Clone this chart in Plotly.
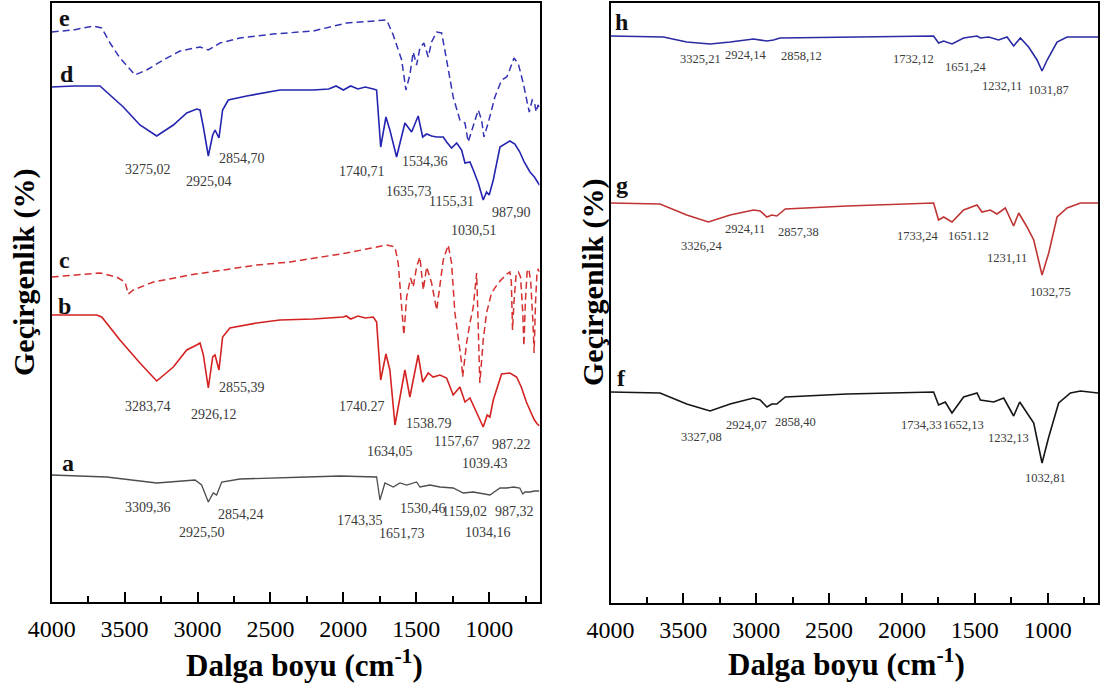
import plotly.graph_objects as go

# ---------------- data (wavenumber cm-1, transmittance a.u., stacked) ----------------
# Left panel
a_wn = [4000, 3623, 3280, 3098, 3017, 2972, 2926, 2892, 2869, 2834, 2709, 2252, 2023, 1772, 1749, 1715,
        1658, 1612, 1566, 1498, 1475, 1406, 1338, 1247, 1178, 1109, 995, 926, 880, 834, 790, 770, 755, 720, 690, 655]
a_y = [127, 125, 119, 121, 122, 117, 100, 109, 107, 120, 123, 125, 126, 125, 102, 119,
       115, 119, 117, 120, 115, 117, 115, 114, 109, 110, 107, 114, 114, 115, 114, 108, 110, 110, 111, 111]

b_wn = [4000, 3691, 3657, 3532, 3395, 3280, 3166, 3074, 3006, 2983, 2960, 2926, 2896, 2880, 2853, 2828, 2778,
        2594, 2435, 2206, 2000, 1980, 1950, 1900, 1850, 1795, 1772, 1744, 1708, 1681, 1646, 1617, 1578, 1544,
        1487, 1456, 1418, 1384, 1338, 1292, 1247, 1201, 1166, 1132, 1086, 1041, 1014, 995, 972, 915, 858, 812,
        780, 745, 715, 690, 670, 655]
b_y = [287, 287, 285, 262, 239, 221, 235, 252, 257, 259, 247, 214, 245, 247, 232, 265, 274,
       279, 282, 283, 285, 286, 283, 286, 284, 285, 280, 222, 248, 232, 177, 199, 232, 205,
       247, 220, 229, 225, 227, 224, 207, 215, 200, 204, 190, 175, 187, 185, 202, 228, 229, 225,
       215, 200, 190, 182, 178, 176]

c_wn = [4000, 3852, 3669, 3555, 3497, 3475, 3440, 3303, 3052, 2823, 2594, 2366, 2206, 1978, 1703, 1646, 1624,
        1600, 1585, 1566, 1539, 1521, 1498, 1475, 1452, 1429, 1395, 1360, 1338, 1315, 1281, 1258, 1235, 1212,
        1189, 1182, 1155, 1132, 1109, 1086, 1075, 1064, 1041, 1018, 984, 938, 880, 858, 848, 840, 830, 815,
        800, 785, 770, 762, 752, 740, 728, 715, 700, 692, 682, 672, 665, 655]
c_y = [325, 327, 329, 325, 320, 308, 312, 320, 327, 332, 337, 340, 344, 349, 357, 355, 339,
       295, 267, 305, 324, 315, 335, 345, 312, 335, 319, 292, 319, 342, 357, 339, 289, 265,
       239, 225, 259, 279, 295, 329, 279, 219, 262, 289, 309, 319, 328, 330, 320, 272, 300, 328,
       330, 325, 290, 256, 300, 330, 333, 320, 280, 249, 300, 330, 333, 330]

d_wn = [4000, 3850, 3669, 3600, 3509, 3395, 3280, 3166, 3074, 3006, 2983, 2960, 2926, 2896, 2880, 2853, 2828,
        2789, 2663, 2435, 2206, 2100, 2050, 2000, 1950, 1900, 1850, 1795, 1772, 1744, 1708, 1681, 1635, 1578,
        1532, 1487, 1456, 1429, 1395, 1360, 1315, 1292, 1258, 1223, 1189, 1166, 1132, 1109, 1075, 1041, 1018,
        1000, 972, 926, 890, 858, 824, 790, 760, 720, 690, 655]
d_y = [515, 516, 516, 507, 495, 477, 466, 477, 489, 493, 492, 475, 446, 467, 472, 464, 492,
       502, 506, 512, 512, 513, 516, 512, 516, 513, 515, 513, 512, 455, 485, 472, 445, 479,
       470, 486, 465, 468, 466, 465, 465, 460, 454, 459, 452, 439, 440, 432, 419, 402, 410,
       407, 422, 455, 458, 461, 458, 450, 440, 430, 425, 417]

e_wn = [4000, 3852, 3715, 3657, 3600, 3532, 3429, 3349, 3235, 3120, 2983, 2926, 2846, 2709, 2481, 2206, 1978,
        1703, 1658, 1600, 1571, 1544, 1521, 1498, 1475, 1448, 1418, 1395, 1360, 1326, 1292, 1247, 1201, 1166,
        1144, 1109, 1075, 1052, 1036, 1007, 961, 915, 880, 860, 830, 800, 765, 740, 725, 705, 690, 678, 665, 655]
e_y = [570, 572, 576, 574, 559, 544, 527, 532, 542, 551, 555, 552, 559, 564, 568, 571, 579,
       582, 567, 542, 512, 527, 550, 537, 554, 559, 545, 560, 570, 569, 542, 505, 482, 479,
       460, 477, 492, 482, 465, 479, 505, 522, 525, 532, 544, 538, 518, 500, 490, 502, 500, 490, 497, 495]

# Right panel
f_wn = [4000, 3660, 3477, 3317, 3179, 3019, 2973, 2927, 2893, 2859, 2801, 2378, 1783, 1749, 1703, 1657, 1577,
        1485, 1462, 1371, 1302, 1234, 1192, 1142, 1096, 1039, 993, 925, 844, 775, 654]
f_y = [211, 210, 199, 192, 199, 205, 203, 196, 199, 199, 206, 209, 211, 198, 201, 190, 206,
       210, 203, 201, 205, 187, 201, 190, 180, 140, 166, 200, 210, 212, 210]

g_wn = [4000, 3660, 3477, 3328, 3179, 3019, 2973, 2927, 2893, 2859, 2801, 2378, 1783, 1749, 1714, 1657, 1577,
        1485, 1451, 1394, 1348, 1291, 1234, 1199, 1142, 1096, 1039, 993, 936, 867, 775, 654]
g_y = [400, 399, 388, 381, 388, 393, 392, 386, 388, 387, 394, 397, 400, 383, 386, 381, 393,
       398, 391, 393, 389, 395, 377, 390, 376, 363, 328, 350, 386, 395, 400, 400]

h_wn = [4000, 3637, 3477, 3317, 3179, 3019, 2927, 2882, 2836, 2378, 1920, 1783, 1749, 1714, 1657, 1577, 1485,
        1462, 1405, 1337, 1279, 1234, 1188, 1131, 1073, 1039, 1004, 936, 867, 654]
h_y = [567, 566, 561, 559, 561, 564, 562, 563, 565, 566, 567, 567, 560, 562, 559, 565, 567,
       565, 566, 563, 566, 557, 565, 556, 543, 532, 543, 561, 566, 566]

# Peak labels (text, wavenumber, level)
left_peak_text = ["3275,02", "2854,70", "2925,04", "1740,71", "1534,36", "1635,73", "1155,31", "987,90", "1030,51",
                  "3283,74", "2855,39", "2926,12", "1740.27", "1538.79", "1634,05", "1157,67", "987.22", "1039.43",
                  "3309,36", "2854,24", "2925,50", "1743,35", "1651,73", "1530,46", "1159,02", "987,32", "1034,16"]
left_peak_wn = [3342, 2692, 2921, 1873, 1439, 1547, 1258, 848, 1101,
                3342, 2692, 2885, 1873, 1415, 1679, 1221, 848, 1029,
                3342, 2703, 2969, 1884, 1595, 1455, 1170, 824, 1005]
left_peak_y = [432, 443, 420, 430, 440, 410, 400, 389, 371,
               196, 215, 188, 196, 179, 151, 161, 158, 139,
               95, 88, 70, 82, 69, 94, 91, 91, 70]

right_peak_text = ["3325,21", "2924,14", "2858,12", "1732,12", "1651,24", "1232,11", "1031,87",
                   "2924,11", "2857,38", "3326,24", "1733,24", "1651.12", "1231,11", "1032,75",
                   "3327,08", "2924,07", "2858,40", "1734,33", "1652,13", "1232,13", "1032,81"]
right_peak_wn = [3385, 3076, 2687, 1920, 1565, 1313, 993,
                 3076, 2710, 3374, 1893, 1543, 1279, 982,
                 3374, 3065, 2733, 1867, 1579, 1268, 1016]
right_peak_y = [544, 548, 547, 544, 536, 517, 513,
                374, 371, 357, 367, 367, 345, 311,
                166, 178, 181, 178, 178, 165, 125]

left_letters = ["e", "d", "c", "b", "a"]
left_letter_wn = [3909, 3896, 3909, 3909, 3885]
left_letter_y = [584, 528, 342, 296, 139]
right_letters = ["h", "g", "f"]
right_letter_wn = [3923, 3923, 3923]
right_letter_y = [581, 418, 225]

tick_vals = [4000, 3500, 3000, 2500, 2000, 1500, 1000]
minor_vals = [3750, 3250, 2750, 2250, 1750, 1250, 750]

# ---------------- figure ----------------
W, H = 1101, 683
SERIF = "Liberation Serif"
fig = go.Figure()

def add(x, y, color, axis, dash="solid", width=1.6):
    fig.add_trace(go.Scatter(x=x, y=y, mode="lines", xaxis="x" + axis, yaxis="y" + axis,
                             line=dict(color=color, width=width, dash=dash), showlegend=False,
                             hoverinfo="skip"))

add(a_wn, a_y, "#4d4d4d", "", width=1.3)
add(b_wn, b_y, "#d42222", "")
add(c_wn, c_y, "#d43030", "", dash="7px,4px", width=1.5)
add(d_wn, d_y, "#2424b0", "")
add(e_wn, e_y, "#3434b4", "", dash="7px,4px", width=1.5)
add(f_wn, f_y, "#151515", "2")
add(g_wn, g_y, "#c03434", "2")
add(h_wn, h_y, "#2a2aa4", "2")

def xax(x0, x1):
    return dict(domain=[x0 / W, x1 / W], range=[4000, 655], tickmode="array", tickvals=tick_vals,
                ticks="inside", ticklen=10, tickwidth=2, tickcolor="black",
                minor=dict(tickmode="array", tickvals=minor_vals, ticks="inside", ticklen=6, tickwidth=2,
                           tickcolor="black"),
                tickfont=dict(family=SERIF, size=24, color="black"), ticklabelstandoff=4,
                showline=True, linewidth=2, linecolor="black", mirror=True,
                showgrid=False, zeroline=False, automargin=False)

def yax(y0, y1, top, anchor):
    return dict(domain=[1 - y1 / H, 1 - y0 / H], range=[0, top], showticklabels=False, ticks="",
                showline=True, linewidth=2, linecolor="black", mirror=True,
                showgrid=False, zeroline=False, automargin=False, anchor=anchor)

fig.update_layout(
    width=W, height=H, margin=dict(l=0, r=0, t=0, b=0),
    paper_bgcolor="white", plot_bgcolor="white",
    xaxis=dict(**xax(51.7, 539.5), anchor="y"),
    yaxis=yax(3, 602, 599, "x"),
    xaxis2=dict(**xax(610.5, 1098), anchor="y2"),
    yaxis2=yax(3, 603, 600, "x2"),
)

ann = []
for t, x, y in zip(left_peak_text, left_peak_wn, left_peak_y):
    ann.append(dict(text=t, x=x, y=y, xref="x", yref="y", showarrow=False,
                    font=dict(family=SERIF, size=14, color="#3a3a3a")))
for t, x, y in zip(right_peak_text, right_peak_wn, right_peak_y):
    ann.append(dict(text=t, x=x, y=y, xref="x2", yref="y2", showarrow=False,
                    font=dict(family=SERIF, size=12.5, color="#3a3a3a")))
for t, x, y in zip(left_letters, left_letter_wn, left_letter_y):
    ann.append(dict(text="<b>" + t + "</b>", x=x, y=y, xref="x", yref="y", showarrow=False,
                    font=dict(family=SERIF, size=24, color="#111111")))
for t, x, y in zip(right_letters, right_letter_wn, right_letter_y):
    ann.append(dict(text="<b>" + t + "</b>", x=x, y=y, xref="x2", yref="y2", showarrow=False,
                    font=dict(family=SERIF, size=24, color="#111111")))

xtitle = "<b>Dalga boyu (cm<sup>-1</sup>)</b>"
ytitle = "<b>Geçirgenlik (%)</b>"
for px, py in [(304, 663), (846, 662)]:
    ann.append(dict(text=xtitle, x=px / W, y=1 - py / H, xref="paper", yref="paper", showarrow=False,
                    xanchor="center", yanchor="middle", font=dict(family=SERIF, size=31, color="black")))
for px, py in [(24, 273), (593, 283)]:
    ann.append(dict(text=ytitle, x=px / W, y=1 - py / H, xref="paper", yref="paper", showarrow=False,
                    textangle=-90, xanchor="center", yanchor="middle",
                    font=dict(family=SERIF, size=30, color="black")))

fig.update_layout(annotations=ann)
fig.write_html("out.html")
